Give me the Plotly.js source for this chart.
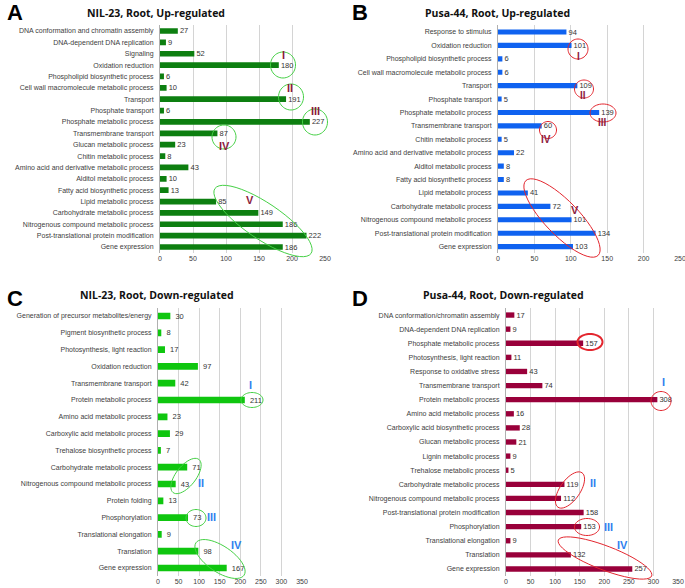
<!DOCTYPE html>
<html>
<head>
<meta charset="utf-8">
<script src="https://cdn.plot.ly/plotly-3.0.1.min.js"></script>
<style>
  html, body { margin: 0; padding: 0; background: #fff; }
  #chart { width: 685px; height: 588px; }
</style>
</head>
<body>
<div id="chart"></div>
<script>
// A: NIL-23, Root, Up-regulated
var catsA = ["DNA conformation and chromatin assembly", "DNA-dependent DNA replication", "Signaling",
  "Oxidation reduction", "Phospholipid biosynthetic process", "Cell wall macromolecule metabolic process",
  "Transport", "Phosphate transport", "Phosphate metabolic process", "Transmembrane transport",
  "Glucan metabolic process", "Chitin metabolic process", "Amino acid and derivative metabolic process",
  "Alditol metabolic process", "Fatty acid biosynthetic process", "Lipid metabolic process",
  "Carbohydrate metabolic process", "Nitrogenous compound metabolic process",
  "Post-translational protein modification", "Gene expression"];
var valsA = [27, 9, 52, 180, 6, 10, 191, 6, 227, 87, 23, 8, 43, 10, 13, 85, 149, 186, 222, 186];

// B: Pusa-44, Root, Up-regulated
var catsB = ["Response to stimulus", "Oxidation reduction", "Phospholipid biosynthetic process",
  "Cell wall macromolecule metabolic process", "Transport", "Phosphate transport",
  "Phosphate metabolic process", "Transmembrane transport", "Chitin metabolic process",
  "Amino acid and derivative metabolic process", "Alditol metabolic process",
  "Fatty acid biosynthetic process", "Lipid metabolic process", "Carbohydrate metabolic process",
  "Nitrogenous compound metabolic process", "Post-translational protein modification", "Gene expression"];
var valsB = [94, 101, 6, 6, 109, 5, 139, 60, 5, 22, 8, 8, 41, 72, 101, 134, 103];

// C: NIL-23, Root, Down-regulated
var catsC = ["Generation of precursor metabolites/energy", "Pigment biosynthetic process",
  "Photosynthesis, light reaction", "Oxidation reduction", "Transmembrane transport",
  "Protein metabolic process", "Amino acid metabolic process", "Carboxylic acid metabolic process",
  "Trehalose biosynthetic process", "Carbohydrate metabolic process",
  "Nitrogenous compound metabolic process", "Protein folding", "Phosphorylation",
  "Translational elongation", "Translation", "Gene expression"];
var valsC = [30, 8, 17, 97, 42, 211, 23, 29, 7, 71, 43, 13, 73, 9, 98, 167];

// D: Pusa-44, Root, Down-regulated
var catsD = ["DNA conformation/chromatin assembly", "DNA-dependent DNA replication",
  "Phosphate metabolic process", "Photosynthesis, light reaction", "Response to oxidative stress",
  "Transmembrane transport", "Protein metabolic process", "Amino acid metabolic process",
  "Carboxylic acid biosynthetic process", "Glucan metabolic process", "Lignin metabolic process",
  "Trehalose metabolic process", "Carbohydrate metabolic process",
  "Nitrogenous compound metabolic process", "Post-translational protein modification",
  "Phosphorylation", "Translational elongation", "Translation", "Gene expression"];
var valsD = [17, 9, 157, 11, 43, 74, 308, 16, 28, 21, 9, 5, 119, 112, 158, 153, 9, 132, 257];

var W = 685, H = 588;
function px(x) { return x / W; }
function py(y) { return 1 - y / H; }

function bar(cats, vals, color, w, xa, ya) {
  return {
    type: "bar", orientation: "h", y: cats, x: vals,
    xaxis: xa, yaxis: ya, width: w,
    marker: {color: color},
    text: vals.map(function (v) { return "\u00a0" + v; }),
    textposition: "outside", constraintext: "none",
    cliponaxis: false,
    textfont: {family: "Liberation Sans, Arial, sans-serif", size: 7.5, color: "#333"},
    hoverinfo: "x+y"
  };
}

var data = [
  bar(catsA, valsA, "#0d7f10", 0.5, "x", "y"),
  bar(catsB, valsB, "#0f62f0", 0.38, "x2", "y2"),
  bar(catsC, valsC, "#0fc60f", 0.4, "x3", "y3"),
  bar(catsD, valsD, "#99003a", 0.38, "x4", "y4")
];

var tickFont = {family: "Liberation Sans, Arial, sans-serif", size: 7, color: "#404040"};
function xax(x0, x1, yname, max) {
  return {domain: [px(x0), px(x1)], anchor: yname, range: [0, max], dtick: 50,
    showgrid: true, gridcolor: "#d4d4d4", gridwidth: 1, zeroline: false, showline: false,
    ticks: "", tickfont: tickFont, ticklabeloverflow: "allow", fixedrange: true};
}
function yax(y0, y1, xname) {
  return {domain: [py(y1), py(y0)], anchor: xname, type: "category", autorange: "reversed",
    showgrid: false, showline: true, linecolor: "#b0b0b0", linewidth: 1, ticks: "",
    ticklabelstandoff: 4, tickfont: tickFont, fixedrange: true};
}

// rotated ellipse outline as a path in paper coordinates (pixel inputs)
function ellipse(cx, cy, rx, ry, ang, color, lw) {
  var a = ang * Math.PI / 180, d = "";
  for (var i = 0; i <= 48; i++) {
    var t = i / 48 * 2 * Math.PI;
    var ex = rx * Math.cos(t), ey = ry * Math.sin(t);
    var x = cx + ex * Math.cos(a) - ey * Math.sin(a);
    var y = cy + ex * Math.sin(a) + ey * Math.cos(a);
    d += (i ? " L " : "M ") + px(x).toFixed(5) + " " + py(y).toFixed(5);
  }
  return {type: "path", xref: "paper", yref: "paper", path: d + " Z",
    line: {color: color, width: lw || 1}};
}

var grn = "#45d045", red = "#e3262e";
var shapes = [
  // A
  ellipse(283, 65, 12.5, 13, 0, grn), ellipse(291, 97, 12.5, 13, 0, grn),
  ellipse(315, 122, 12.5, 13, 0, grn), ellipse(224, 137, 12, 12, 0, grn),
  ellipse(263, 221, 58, 18, 34, grn),
  // B
  ellipse(578, 49, 10, 10, 0, red), ellipse(584, 89, 9.5, 9, 0, red),
  ellipse(603, 113, 13, 9, 0, red), ellipse(548, 130, 8.5, 8.5, 0, red),
  ellipse(562, 218, 52, 17, 46, red),
  // C
  ellipse(252, 400, 11, 7.5, 0, grn), ellipse(186, 476, 21, 10, -52, grn),
  ellipse(196, 518, 10, 8.5, 0, grn), ellipse(220, 559, 29, 13, 34, grn),
  // D
  ellipse(590, 342, 12.5, 8, 0, red, 2), ellipse(661, 401, 10, 9.5, 0, red),
  ellipse(570, 490, 21, 10, -55, red), ellipse(587, 527, 12.5, 8.5, 0, red),
  ellipse(605, 558, 50, 12, 21, red)
];

function ann(x, y, text, size, color, bold, family) {
  return {xref: "paper", yref: "paper", x: px(x), y: py(y), text: bold ? "<b>" + text + "</b>" : text,
    showarrow: false, xanchor: "center", yanchor: "middle",
    font: {family: family || "Liberation Sans, Arial, sans-serif", size: size, color: color}};
}
var dr = "#8c1a3c", bl = "#2f80ee";
var titleFont = "Open Sans, sans-serif";
var annotations = [
  ann(15, 12, "A", 22, "#000", true), ann(360, 12, "B", 22, "#000", true),
  ann(15, 298, "C", 22, "#000", true), ann(360, 298, "D", 22, "#000", true),
  ann(156, 13, "NIL-23, Root, Up-regulated", 10.5, "#111", true, titleFont),
  ann(497, 13, "Pusa-44, Root, Up-regulated", 10.5, "#111", true, titleFont),
  ann(157, 295, "NIL-23, Root, Down-regulated", 10.5, "#111", true, titleFont),
  ann(504, 295, "Pusa-44, Root, Down-regulated", 10.5, "#111", true, titleFont),
  // numerals A
  ann(283, 55, "I", 11, dr, true), ann(290, 88, "II", 11, dr, true), ann(315, 111, "III", 11, dr, true),
  ann(224, 146, "IV", 11, dr, true), ann(250, 200, "V", 11, dr, true),
  // numerals B
  ann(578, 56, "I", 10, dr, true), ann(583, 96, "II", 10, dr, true), ann(602, 122, "III", 10, dr, true),
  ann(546, 139, "IV", 10, dr, true), ann(575, 210, "V", 11, dr, true),
  // numerals C
  ann(250, 385, "I", 11, bl, true), ann(201, 483, "II", 11, bl, true), ann(211, 517, "III", 11, bl, true),
  ann(236, 545, "IV", 11, bl, true),
  // numerals D
  ann(663, 382, "I", 11, bl, true), ann(593, 483, "II", 11, bl, true), ann(608, 527, "III", 11, bl, true),
  ann(622, 545, "IV", 11, bl, true)
];

var layout = {
  width: W, height: H, showlegend: false,
  margin: {l: 0, r: 0, t: 0, b: 0},
  paper_bgcolor: "#fff", plot_bgcolor: "#fff",
  xaxis: xax(160, 325, "y", 250), yaxis: yax(25.3, 252.7, "x"),
  xaxis2: xax(498, 680, "y2", 250), yaxis2: yax(25.3, 253.3, "x2"),
  xaxis3: xax(158, 302, "y3", 350), yaxis3: yax(307.6, 576.4, "x3"),
  xaxis4: xax(506, 678, "y4", 350), yaxis4: yax(308, 576, "x4"),
  shapes: shapes, annotations: annotations
};

Plotly.newPlot("chart", data, layout, {displayModeBar: false, staticPlot: true});
</script>
</body>
</html>
